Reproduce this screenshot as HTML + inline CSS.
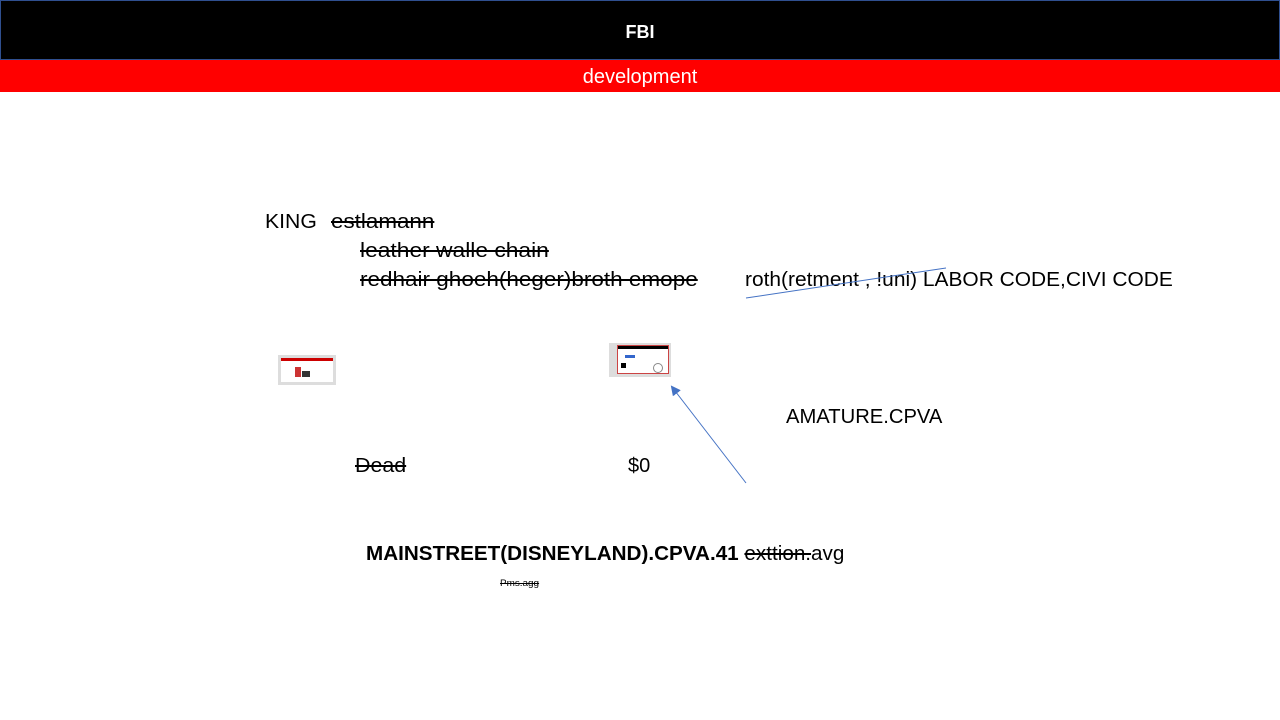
<!DOCTYPE html>
<html><head><meta charset="utf-8"><style>
body{margin:0;width:1280px;height:720px;background:#fff;position:relative;overflow:hidden;font-family:"Liberation Sans",sans-serif}
.t{position:absolute;white-space:nowrap;color:#000;font-size:20px;line-height:20px;transform-origin:0 0}
.s{text-decoration:line-through}
</style></head><body>
<div style="position:absolute;left:0;top:0;width:1280px;height:60px;background:#000;border:1px solid #2f4f8f;box-sizing:border-box"></div>
<div class="t" style="left:0;width:1280px;text-align:center;top:22px;color:#fff;font-weight:bold;font-size:18px">FBI</div>
<div style="position:absolute;left:0;top:60px;width:1280px;height:32px;background:#f00"></div>
<div class="t" style="left:0;width:1280px;text-align:center;top:67px;color:#fff;font-size:20px">development</div>

<div class="t" style="left:265px;top:212px;transform:scaleX(1.06)">KING</div>
<div class="t s" style="left:331px;top:212px;transform:scaleX(1.12)">estlamann</div>
<div class="t s" style="left:360px;top:241px;transform:scaleX(1.14)">leather walle chain</div>
<div class="t s" style="left:360px;top:270px;transform:scaleX(1.125)">redhair ghoeh(heger)broth emope</div>
<div class="t" style="left:745px;top:270px;transform:scaleX(1.046)">roth(retment , !uni) LABOR CODE,CIVI CODE</div>
<div class="t" style="left:786px;top:407px;transform:scaleX(1.01)">AMATURE.CPVA</div>
<div class="t s" style="left:355px;top:456px;transform:scaleX(1.07)">Dead</div>
<div class="t" style="left:628px;top:456px">$0</div>
<div class="t" style="left:366px;top:544px;transform:scaleX(1.033)"><b>MAINSTREET(DISNEYLAND).CPVA.41</b> <span class="s">exttion.</span>avg</div>
<div class="t s" style="left:500px;top:579px;font-size:9px;line-height:9px;transform:scaleX(1.1)">Pms.agg</div>

<div style="position:absolute;left:278px;top:355px;width:58px;height:30px;background:#ddd">
 <div style="position:absolute;left:3px;top:3px;width:52px;height:24px;background:#fff"></div>
 <div style="position:absolute;left:3px;top:3px;width:52px;height:3px;background:#c00"></div>
 <div style="position:absolute;left:17px;top:12px;width:6px;height:10px;background:#c33"></div>
 <div style="position:absolute;left:24px;top:16px;width:8px;height:6px;background:#333"></div>
</div>
<div style="position:absolute;left:609px;top:343px;width:62px;height:34px;background:#ddd">
 <div style="position:absolute;left:8px;top:2px;width:52px;height:29px;background:#fff;border:1px solid #c44;box-sizing:border-box"></div>
 <div style="position:absolute;left:9px;top:3px;width:50px;height:3px;background:#000"></div>
 <div style="position:absolute;left:12px;top:20px;width:5px;height:5px;background:#000"></div>
 <div style="position:absolute;left:16px;top:12px;width:10px;height:3px;background:#36c"></div>
 <div style="position:absolute;left:44px;top:20px;width:8px;height:8px;border:1px solid #888;border-radius:50%"></div>
</div>

<svg width="1280" height="720" style="position:absolute;left:0;top:0">
 <defs><marker id="a" markerWidth="10" markerHeight="10" refX="8" refY="5" orient="auto"><path d="M0,0 L10,5 L0,10 z" fill="#4472c4"/></marker></defs>
 <line x1="746" y1="298" x2="946" y2="268" stroke="#4472c4" stroke-width="1"/>
 <line x1="746" y1="483" x2="672" y2="387" stroke="#4472c4" stroke-width="1" marker-end="url(#a)"/>
</svg>
</body></html>
